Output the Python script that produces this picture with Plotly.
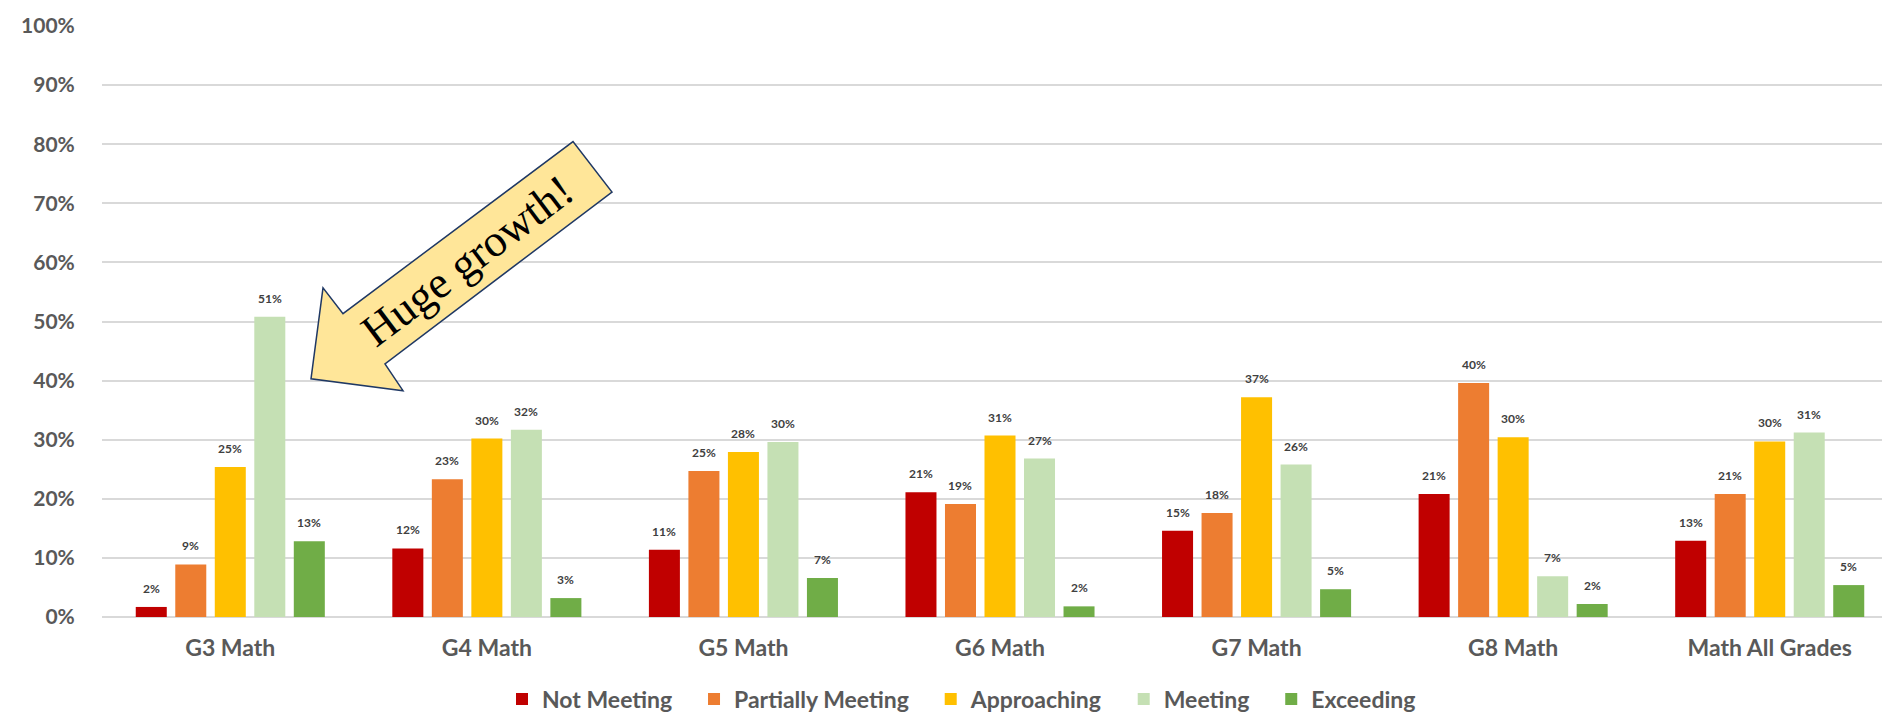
import plotly.graph_objects as go

categories = ["G3 Math", "G4 Math", "G5 Math", "G6 Math", "G7 Math", "G8 Math", "Math All Grades"]
series_names = ["Not Meeting", "Partially Meeting", "Approaching", "Meeting", "Exceeding"]
not_meeting = [1.7, 11.6, 11.4, 21.1, 14.6, 20.8, 12.9]
partially_meeting = [8.9, 23.3, 24.7, 19.1, 17.6, 39.6, 20.8]
approaching = [25.4, 30.2, 27.9, 30.7, 37.2, 30.4, 29.7]
meeting = [50.8, 31.7, 29.6, 26.8, 25.8, 6.9, 31.2]
exceeding = [12.8, 3.2, 6.6, 1.8, 4.7, 2.2, 5.4]
y_ticks = [0, 10, 20, 30, 40, 50, 60, 70, 80, 90, 100]
y_tick_labels = [f"{v}%" for v in y_ticks]
annotation_text = "Huge growth!"

series_values = [not_meeting, partially_meeting, approaching, meeting, exceeding]
colors = ["#C00000", "#ED7D31", "#FFC000", "#C5E0B4", "#70AD47"]

W, H = 1890, 713
ML, MR, MT, MB = 94, 0, 18, 97
PW, PH = W - ML - MR, H - MT - MB
BARGAP, BARGROUPGAP = 0.23, 0.215

FONT = "Lato"
GRAY = "#595959"

fig = go.Figure()
n = len(series_names)
annotations = []
for i, (name, vals, col) in enumerate(zip(series_names, series_values, colors)):
    legend_name = name + ("\u00a0" * 3 if i < n - 1 else "")
    fig.add_trace(go.Bar(
        name=legend_name, x=categories, y=vals, marker_color=col, marker_line_width=0,
        hovertext=[f"{round(v):.0f}%" for v in vals],
    ))
    slot = (1 - BARGAP) / n
    for j, v in enumerate(vals):
        annotations.append(dict(
            xref="x", yref="y", x=j + (i - (n - 1) / 2) * slot, y=v,
            text=f"{round(v):.0f}%", showarrow=False, xanchor="center", yanchor="bottom",
            yshift=9, font=dict(family=FONT, size=12, color="#404040", weight="bold"),
        ))


def px(xp, yp):
    return (xp - ML) / PW, (H - MB - yp) / PH


arrow_px = [(303, 375), (315, 283), (335, 309), (565, 135), (604, 186), (377, 360), (395, 387)]
pts = [px(a, b) for a, b in arrow_px]
path = "M " + " L ".join(f"{a:.5f},{b:.5f}" for a, b in pts) + " Z"

tx, ty = px(459, 256)
annotations.append(dict(text=annotation_text, xref="paper", yref="paper", x=tx, y=ty,
                        xanchor="center", yanchor="middle", showarrow=False, textangle=-37,
                        font=dict(family="Liberation Serif", size=45, color="black")))

fig.update_layout(
    width=W, height=H,
    margin=dict(l=ML, r=MR, t=MT, b=MB, pad=0),
    paper_bgcolor="white", plot_bgcolor="white",
    barmode="group", bargap=BARGAP, bargroupgap=BARGROUPGAP,
    font=dict(family=FONT, color=GRAY),
    xaxis=dict(
        showgrid=False, showline=False, zeroline=False,
        ticks="outside", ticklen=10, tickcolor="rgba(0,0,0,0)",
        tickfont=dict(family=FONT, size=23, color=GRAY, weight="bold"),
    ),
    yaxis=dict(
        range=[0, 100], tickvals=y_ticks, ticktext=y_tick_labels,
        showgrid=True, gridcolor="#D9D9D9", gridwidth=1.5,
        zeroline=True, zerolinecolor="#D9D9D9", zerolinewidth=1.5,
        showline=False,
        ticks="outside", ticklen=22, tickcolor="rgba(0,0,0,0)",
        tickfont=dict(family=FONT, size=21, color=GRAY, weight="bold"),
    ),
    legend=dict(
        orientation="h", x=px(494, 0)[0], xanchor="left", y=px(0, 699)[1], yanchor="middle",
        font=dict(family=FONT, size=23, color=GRAY, weight="bold"),
        itemwidth=30, traceorder="normal",
    ),
    shapes=[dict(type="path", xref="paper", yref="paper", path=path,
                 fillcolor="#FFE699", line=dict(color="#1F3864", width=1.5), layer="above")],
    annotations=annotations,
)

fig.write_html("out.html")
